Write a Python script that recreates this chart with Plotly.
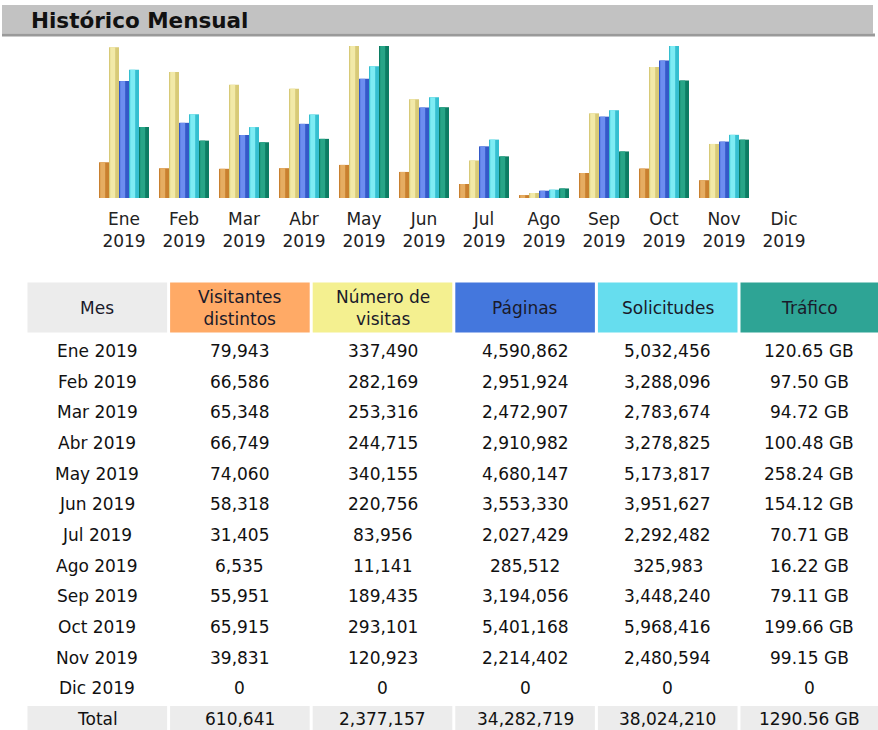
import plotly.graph_objects as go

W, H = 878, 730

months = ["Ene", "Feb", "Mar", "Abr", "May", "Jun", "Jul", "Ago", "Sep", "Oct", "Nov", "Dic"]
year = "2019"
visitors = [79943, 66586, 65348, 66749, 74060, 58318, 31405, 6535, 55951, 65915, 39831, 0]
visits = [337490, 282169, 253316, 244715, 340155, 220756, 83956, 11141, 189435, 293101, 120923, 0]
pages = [4590862, 2951924, 2472907, 2910982, 4680147, 3553330, 2027429, 285512, 3194056, 5401168, 2214402, 0]
hits = [5032456, 3288096, 2783674, 3278825, 5173817, 3951627, 2292482, 325983, 3448240, 5968416, 2480594, 0]
traffic_gb = [120.65, 97.50, 94.72, 100.48, 258.24, 154.12, 70.71, 16.22, 79.11, 199.66, 99.15, 0]

headers = ["Mes", "Visitantes<br>distintos", "Número de<br>visitas", "Páginas", "Solicitudes", "Tráfico"]
header_colors = ["#ececec", "#FFAA66", "#F4F090", "#4477DD", "#66DDEE", "#2EA495"]
bar_dark = ["#c9802f", "#d8ca78", "#3459c8", "#36bfd0", "#0c7d63"]
bar_light = ["#e6ad62", "#f2e9a8", "#6c8ef0", "#7eecf4", "#27a587"]
bar_names = ["Visitantes distintos", "Número de visitas", "Páginas", "Solicitudes", "Tráfico"]

FONT = "DejaVu Sans"


def px_x(v):
    return v / W


def px_y(v):
    return 1 - v / H


fig = go.Figure()

series = [visitors, visits, pages, hits, traffic_gb]
axes = ["y", "y", "y2", "y2", "y3"]
bw = 1 / 6
for i, (vals, ax) in enumerate(zip(series, axes)):
    left = -2.5 * bw + i * bw
    fig.add_trace(go.Bar(
        x=months, y=vals, yaxis=ax, name=bar_names[i],
        marker=dict(color=bar_dark[i], line=dict(width=0)),
        width=bw, offset=left,
        showlegend=False, hoverinfo="skip",
    ))
    fig.add_trace(go.Bar(
        x=months, y=vals, yaxis=ax, name=bar_names[i],
        marker=dict(color=bar_light[i], line=dict(width=0)),
        width=bw * 0.5, offset=left + bw * 0.12,
        showlegend=False, hoverinfo="skip",
    ))


# Table built from the data lists
def fmt_int(v):
    return f"{v:,}"


def fmt_gb(v):
    return "0" if v == 0 else f"{v:.2f} GB"


row_labels = [f"{m} {year}" for m in months] + ["Total"]
cols = [row_labels]
for vals in [visitors, visits, pages, hits]:
    cols.append([fmt_int(v) for v in vals] + [fmt_int(sum(vals))])
cols.append([fmt_gb(v) for v in traffic_gb] + [f"{sum(traffic_gb):.2f} GB"])

col_left = 27.5
col_pitch = 142.6
col_w = 139.6
head_top, head_bot = 282.5, 332.5
row0_center = 351.0
row_pitch = 30.67

shapes = [
    dict(type="rect", xref="paper", yref="paper",
         x0=px_x(2), x1=px_x(873), y0=px_y(33.5), y1=px_y(5),
         fillcolor="#c2c2c2", line=dict(width=0), layer="below"),
    dict(type="rect", xref="paper", yref="paper",
         x0=px_x(2), x1=px_x(875), y0=px_y(36.5), y1=px_y(33.5),
         fillcolor="#9a9a9a", line=dict(width=0), layer="below"),
]
annotations = [
    dict(text="<b>Histórico Mensual</b>", xref="paper", yref="paper",
         x=px_x(29), y=px_y(20.5), xanchor="left", yanchor="middle",
         showarrow=False,
         font=dict(family=FONT, size=21.5, color="#111111")),
]

n = len(row_labels)
for c in range(6):
    x0 = col_left + c * col_pitch
    x1 = W if c == 5 else x0 + col_w
    xc = (x0 + x1) / 2
    shapes.append(dict(type="rect", xref="paper", yref="paper",
                       x0=px_x(x0), x1=px_x(x1), y0=px_y(head_bot), y1=px_y(head_top),
                       fillcolor=header_colors[c], line=dict(width=0), layer="below"))
    annotations.append(dict(text=headers[c], xref="paper", yref="paper",
                            x=px_x(xc), y=px_y((head_top + head_bot) / 2),
                            xanchor="center", yanchor="middle", align="center",
                            showarrow=False,
                            font=dict(family=FONT, size=17, color="#1a1a2a")))
    # Total row background
    shapes.append(dict(type="rect", xref="paper", yref="paper",
                       x0=px_x(x0), x1=px_x(x1), y0=px_y(H), y1=px_y(706),
                       fillcolor="#ececec", line=dict(width=0), layer="below"))
    for r in range(n):
        yc = row0_center + r * row_pitch
        if r == n - 1:
            yc = 719
        annotations.append(dict(text=cols[c][r], xref="paper", yref="paper",
                                x=px_x(xc), y=px_y(yc),
                                xanchor="center", yanchor="middle",
                                showarrow=False,
                                font=dict(family=FONT, size=17, color="#111111")))

fig.update_layout(
    width=W, height=H,
    margin=dict(l=0, r=0, t=0, b=0),
    paper_bgcolor="white", plot_bgcolor="rgba(0,0,0,0)",
    barmode="overlay",
    xaxis=dict(
        domain=[px_x(94), px_x(814)],
        tickvals=months,
        ticktext=[f"{m}<br>{year}" for m in months],
        tickfont=dict(family=FONT, size=17, color="#222222"),
        showgrid=False, zeroline=False, showline=False, ticks="",
        ticklabelstandoff=9,
        range=[-0.5, 11.5],
    ),
    yaxis=dict(domain=[px_y(198), px_y(46)], range=[0, max(visits)], visible=False),
    yaxis2=dict(overlaying="y", range=[0, max(hits)], visible=False),
    yaxis3=dict(overlaying="y", range=[0, max(traffic_gb)], visible=False),
    shapes=shapes,
    annotations=annotations,
)

fig.write_html("out.html", post_script="document.body.style.margin='0px';",
               config={"displayModeBar": False})
